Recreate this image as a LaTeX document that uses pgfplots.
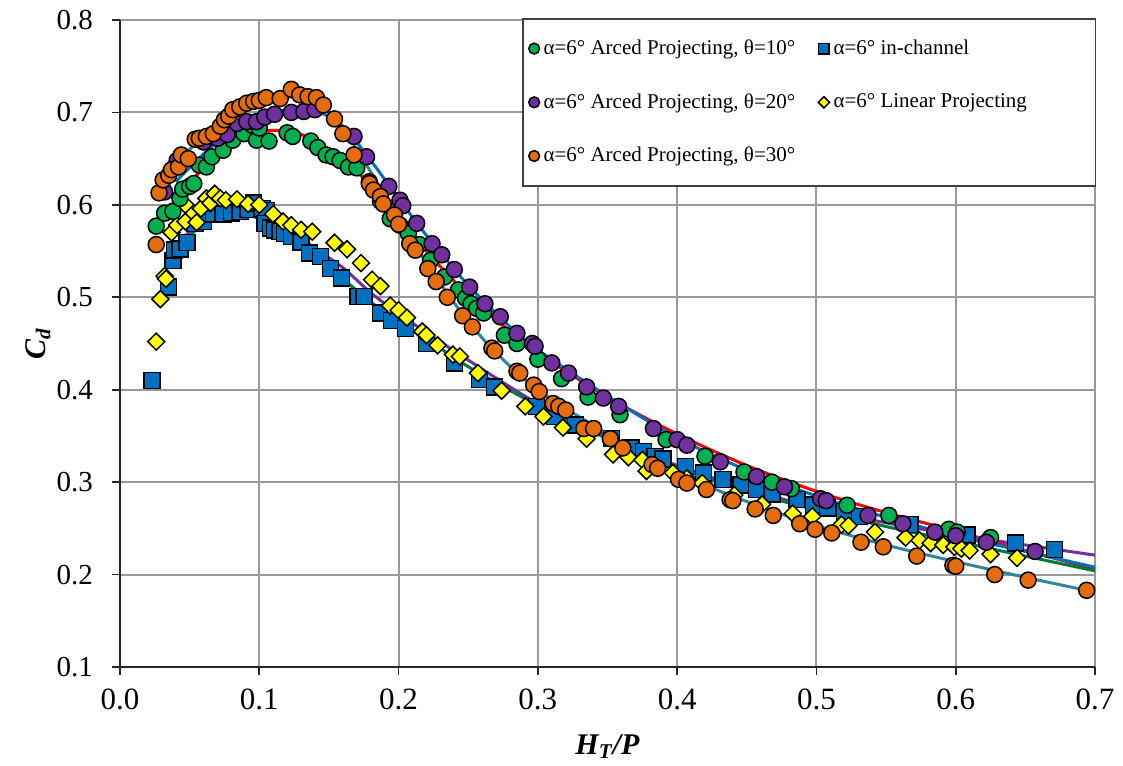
\documentclass[border=0pt]{standalone}
\usepackage{fontspec}
\setmainfont{Liberation Serif}
\usepackage{pgfplots}
\pgfplotsset{compat=1.18}
\definecolor{cgreen}{HTML}{00B050}
\definecolor{cpurple}{HTML}{7030A0}
\definecolor{corange}{HTML}{E46C0A}
\definecolor{cblue}{HTML}{0070C0}
\definecolor{cyellow}{HTML}{FFFF00}
\definecolor{lred}{HTML}{FF0000}
\definecolor{lblue}{HTML}{0070C0}
\definecolor{lteal}{HTML}{31859C}
\definecolor{lpurple}{HTML}{7030A0}
\definecolor{lgreen}{HTML}{007A37}
\definecolor{gridgray}{HTML}{9A9A9A}
\definecolor{axisgray}{HTML}{262626}
\begin{document}
\begin{tikzpicture}
\begin{axis}[
  scale only axis, width=487.5pt, height=323.5pt,
  xmin=0, xmax=0.7, ymin=0.1, ymax=0.8,
  xtick={0,0.1,0.2,0.3,0.4,0.5,0.6,0.7},
  ytick={0.1,0.2,0.3,0.4,0.5,0.6,0.7,0.8},
  /pgf/number format/.cd, fixed, fixed zerofill, precision=1, assume math mode=true, /pgfplots/.cd,
  grid=major, major grid style={color=gridgray, line width=1pt},
  axis lines*=left, axis line style={line width=1.2pt, color=axisgray, -},
  tick align=outside, major tick length=4pt, tick style={line width=0.8pt, color=axisgray},
  xticklabel style={font=\fontsize{15.5}{18}\selectfont, yshift=-3.5pt},
  yticklabel style={font=\fontsize{14.5}{17}\selectfont, xshift=-6pt},
  xlabel={\textbf{\textit{H\textsubscript{T}/P}}},
  ylabel={\textbf{\textit{C\textsubscript{d}}}},
  every axis x label/.style={at={(axis description cs:0.5,-0.093)}, anchor=north, font=\fontsize{15}{18}\selectfont},
  every axis y label/.style={at={(axis description cs:-0.084,0.5)}, anchor=center, rotate=90, font=\fontsize{15}{18}\selectfont},
  legend columns=2,
  legend cell align=left,
  legend style={at={(0.4123,1.0031)}, anchor=north west, draw=black!75, line width=0.8pt, fill=white,
    font=\fontsize{10.5}{12}\selectfont, inner xsep=3pt, inner ysep=8.5pt, row sep=14pt,
    /tikz/every even column/.append style={column sep=9.5pt}},
  legend image code/.code={\draw[#1] plot coordinates {(0pt,0pt)};},
]
% trend lines
\addplot[smooth, no marks, color=lred, line width=1.5pt, forget plot] coordinates {
(0.045,0.615)(0.06,0.64)(0.08,0.667)(0.1,0.679)(0.12,0.680)(0.14,0.670)(0.16,0.648)(0.18,0.622)(0.2,0.59)(0.22,0.55)(0.25,0.502)(0.28,0.463)(0.3,0.440)(0.35,0.392)(0.4,0.352)(0.45,0.318)(0.5,0.290)(0.55,0.267)(0.6,0.247)(0.65,0.226)(0.7,0.206)};
\addplot[smooth, no marks, color=lblue, line width=1.5pt, forget plot] coordinates {
(0.04,0.625)(0.06,0.655)(0.08,0.680)(0.1,0.695)(0.12,0.703)(0.14,0.702)(0.16,0.685)(0.18,0.648)(0.2,0.607)(0.22,0.567)(0.25,0.513)(0.28,0.468)(0.3,0.443)(0.35,0.393)(0.4,0.348)(0.45,0.313)(0.5,0.285)(0.55,0.262)(0.6,0.242)(0.65,0.225)(0.7,0.208)};
\addplot[smooth, no marks, color=lteal, line width=1.5pt, forget plot] coordinates {
(0.03,0.625)(0.05,0.660)(0.07,0.685)(0.09,0.705)(0.11,0.714)(0.13,0.716)(0.15,0.700)(0.17,0.660)(0.19,0.610)(0.21,0.560)(0.23,0.515)(0.25,0.474)(0.27,0.440)(0.3,0.400)(0.35,0.352)(0.4,0.310)(0.45,0.279)(0.5,0.253)(0.55,0.232)(0.6,0.214)(0.65,0.197)(0.7,0.181)};
\addplot[smooth, no marks, color=lpurple, line width=1.5pt, forget plot] coordinates {
(0.04,0.555)(0.06,0.585)(0.08,0.595)(0.1,0.590)(0.12,0.575)(0.14,0.553)(0.16,0.532)(0.18,0.505)(0.2,0.482)(0.22,0.462)(0.25,0.432)(0.3,0.385)(0.35,0.350)(0.4,0.318)(0.45,0.293)(0.5,0.272)(0.55,0.256)(0.6,0.243)(0.65,0.232)(0.7,0.221)};
\addplot[smooth, no marks, color=lgreen, line width=1.5pt, forget plot] coordinates {
(0.04,0.550)(0.06,0.580)(0.08,0.592)(0.1,0.585)(0.12,0.568)(0.14,0.545)(0.16,0.520)(0.18,0.495)(0.2,0.473)(0.22,0.455)(0.25,0.425)(0.3,0.383)(0.35,0.347)(0.4,0.316)(0.45,0.290)(0.5,0.270)(0.55,0.252)(0.6,0.236)(0.65,0.220)(0.7,0.204)};
% in-channel (blue squares)
\addplot[only marks, mark=square*, mark size=4pt, mark options={draw=black, fill=cblue, line width=0.75pt}, forget plot] coordinates {
(0.023,0.410)(0.035,0.511)(0.038,0.540)(0.039,0.551)(0.043,0.552)(0.048,0.559)(0.054,0.580)(0.060,0.582)(0.067,0.590)(0.074,0.590)(0.080,0.591)(0.086,0.593)(0.092,0.595)(0.096,0.602)(0.102,0.596)(0.105,0.594)(0.104,0.580)(0.108,0.575)(0.111,0.573)(0.115,0.571)(0.118,0.569)(0.123,0.566)(0.130,0.560)(0.136,0.548)(0.144,0.544)(0.151,0.531)(0.159,0.521)(0.171,0.501)(0.175,0.501)(0.187,0.483)(0.195,0.475)(0.205,0.466)(0.220,0.450)(0.240,0.429)(0.258,0.411)(0.269,0.403)(0.299,0.382)(0.312,0.371)(0.327,0.362)(0.353,0.347)(0.367,0.337)(0.376,0.333)(0.384,0.328)(0.390,0.325)(0.406,0.317)(0.419,0.310)(0.433,0.303)(0.446,0.297)(0.457,0.292)(0.468,0.287)(0.486,0.281)(0.498,0.275)(0.508,0.272)(0.520,0.268)(0.531,0.263)(0.567,0.254)(0.608,0.243)(0.643,0.234)(0.671,0.227)};
% linear projecting (yellow diamonds)
\addplot[only marks, mark=square*, mark size=3pt, mark options={draw=black, fill=cyellow, line width=0.75pt, rotate=45}, forget plot] coordinates {
(0.026,0.452)(0.029,0.498)(0.032,0.523)(0.033,0.520)(0.037,0.570)(0.041,0.578)(0.047,0.582)(0.049,0.597)(0.053,0.591)(0.055,0.581)(0.058,0.596)(0.062,0.607)(0.065,0.602)(0.068,0.612)(0.072,0.607)(0.076,0.605)(0.084,0.606)(0.092,0.601)(0.100,0.600)(0.110,0.590)(0.117,0.582)(0.123,0.578)(0.130,0.573)(0.138,0.571)(0.154,0.559)(0.163,0.552)(0.173,0.537)(0.181,0.519)(0.187,0.512)(0.194,0.491)(0.200,0.486)(0.206,0.478)(0.217,0.463)(0.220,0.459)(0.228,0.448)(0.239,0.438)(0.244,0.436)(0.257,0.418)(0.274,0.399)(0.291,0.382)(0.304,0.371)(0.318,0.359)(0.335,0.347)(0.354,0.330)(0.365,0.327)(0.375,0.324)(0.378,0.312)(0.397,0.310)(0.407,0.304)(0.418,0.299)(0.441,0.286)(0.461,0.276)(0.483,0.266)(0.497,0.263)(0.518,0.254)(0.523,0.253)(0.542,0.246)(0.564,0.240)(0.574,0.237)(0.582,0.234)(0.591,0.232)(0.599,0.230)(0.604,0.228)(0.610,0.226)(0.625,0.222)(0.644,0.218)};
% theta = 10 (green circles)
\addplot[only marks, mark=*, mark size=4pt, mark options={draw=black, fill=cgreen, line width=0.75pt}, forget plot] coordinates {
(0.026,0.577)(0.032,0.591)(0.038,0.593)(0.043,0.607)(0.045,0.617)(0.050,0.620)(0.053,0.623)(0.057,0.643)(0.062,0.641)(0.066,0.652)(0.074,0.659)(0.081,0.670)(0.089,0.677)(0.095,0.686)(0.098,0.670)(0.100,0.683)(0.107,0.669)(0.120,0.678)(0.124,0.674)(0.137,0.669)(0.142,0.662)(0.148,0.654)(0.153,0.652)(0.158,0.648)(0.164,0.641)(0.170,0.640)(0.179,0.625)(0.187,0.604)(0.194,0.585)(0.201,0.578)(0.207,0.569)(0.215,0.557)(0.223,0.540)(0.233,0.522)(0.243,0.508)(0.248,0.499)(0.252,0.493)(0.256,0.488)(0.261,0.483)(0.276,0.459)(0.285,0.450)(0.300,0.433)(0.317,0.412)(0.336,0.392)(0.359,0.373)(0.392,0.346)(0.420,0.328)(0.448,0.311)(0.468,0.300)(0.482,0.293)(0.522,0.275)(0.552,0.264)(0.595,0.249)(0.601,0.246)(0.625,0.240)};
% theta = 20 (purple circles)
\addplot[only marks, mark=*, mark size=4pt, mark options={draw=black, fill=cpurple, line width=0.75pt}, forget plot] coordinates {
(0.032,0.614)(0.041,0.648)(0.060,0.668)(0.070,0.672)(0.077,0.676)(0.084,0.688)(0.091,0.690)(0.098,0.690)(0.104,0.695)(0.111,0.698)(0.123,0.700)(0.132,0.701)(0.140,0.703)(0.168,0.674)(0.177,0.652)(0.193,0.620)(0.201,0.605)(0.203,0.599)(0.213,0.580)(0.224,0.558)(0.231,0.546)(0.240,0.530)(0.251,0.511)(0.262,0.493)(0.273,0.479)(0.285,0.461)(0.296,0.450)(0.298,0.447)(0.310,0.429)(0.322,0.418)(0.335,0.403)(0.347,0.391)(0.358,0.382)(0.383,0.358)(0.400,0.346)(0.407,0.340)(0.431,0.322)(0.457,0.306)(0.477,0.295)(0.503,0.282)(0.507,0.280)(0.537,0.264)(0.562,0.255)(0.585,0.246)(0.600,0.242)(0.622,0.235)(0.657,0.225)};
% theta = 30 (orange circles)
\addplot[only marks, mark=*, mark size=4pt, mark options={draw=black, fill=corange, line width=0.75pt}, forget plot] coordinates {
(0.026,0.557)(0.028,0.613)(0.031,0.627)(0.035,0.632)(0.037,0.638)(0.042,0.641)(0.044,0.654)(0.049,0.650)(0.054,0.671)(0.057,0.672)(0.062,0.674)(0.067,0.677)(0.072,0.685)(0.075,0.692)(0.078,0.696)(0.081,0.703)(0.086,0.706)(0.091,0.710)(0.096,0.712)(0.100,0.713)(0.105,0.716)(0.115,0.715)(0.123,0.725)(0.129,0.719)(0.135,0.717)(0.141,0.716)(0.146,0.708)(0.154,0.693)(0.160,0.677)(0.168,0.654)(0.179,0.623)(0.182,0.616)(0.187,0.609)(0.189,0.601)(0.197,0.589)(0.200,0.579)(0.208,0.558)(0.212,0.551)(0.221,0.531)(0.227,0.517)(0.235,0.500)(0.246,0.480)(0.253,0.468)(0.267,0.445)(0.269,0.442)(0.285,0.420)(0.287,0.418)(0.297,0.405)(0.301,0.398)(0.311,0.385)(0.315,0.382)(0.320,0.378)(0.333,0.358)(0.340,0.358)(0.352,0.347)(0.361,0.337)(0.382,0.319)(0.386,0.315)(0.401,0.303)(0.407,0.299)(0.421,0.292)(0.438,0.281)(0.440,0.280)(0.456,0.271)(0.469,0.264)(0.488,0.255)(0.499,0.249)(0.511,0.245)(0.532,0.235)(0.548,0.230)(0.572,0.220)(0.598,0.210)(0.600,0.209)(0.628,0.200)(0.652,0.194)(0.694,0.183)};
% legend
\addlegendimage{only marks, mark=*, mark size=2.7pt, mark options={draw=black, fill=cgreen, line width=0.75pt}}
\addlegendentry{α=6° Arced Projecting, θ=10°}
\addlegendimage{only marks, mark=square*, mark size=2.6pt, mark options={draw=black, fill=cblue, line width=0.75pt}}
\addlegendentry{\makebox[126pt][l]{α=6° in-channel}}
\addlegendimage{only marks, mark=*, mark size=2.7pt, mark options={draw=black, fill=cpurple, line width=0.75pt}}
\addlegendentry{α=6° Arced Projecting, θ=20°}
\addlegendimage{only marks, mark=square*, mark size=2pt, mark options={draw=black, fill=cyellow, line width=0.75pt, rotate=45}}
\addlegendentry{α=6° Linear Projecting}
\addlegendimage{only marks, mark=*, mark size=2.7pt, mark options={draw=black, fill=corange, line width=0.75pt}}
\addlegendentry{α=6° Arced Projecting, θ=30°}
\end{axis}
\pgfresetboundingbox
\path[use as bounding box] (-60pt,-49pt) rectangle (501.5pt,333.5pt);
\end{tikzpicture}
\end{document}
